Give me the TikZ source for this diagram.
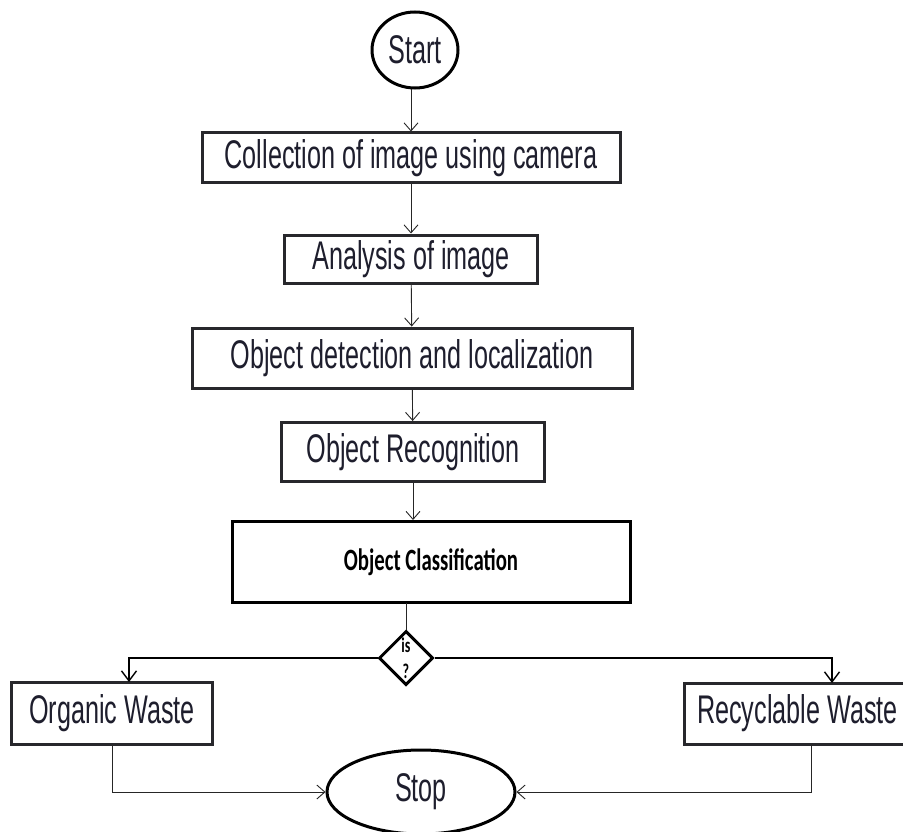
\documentclass[tikz,border=0pt]{standalone}
\usepackage{fontspec}
\setmainfont{Liberation Sans}
\newfontfamily\nar[FakeStretch=0.63]{Liberation Sans}
\newfontfamily\carl[FakeStretch=0.67]{Carlito}
\usetikzlibrary{shapes.geometric,arrows.meta}
\definecolor{boxc}{RGB}{40,40,44}
\definecolor{txtc}{RGB}{30,30,45}
\begin{document}
\begin{tikzpicture}[x=1pt,y=-1pt,
  box/.style={draw=boxc, line width=3pt, inner sep=0pt, text=txtc,
    font=\nar\fontsize{40}{44}\selectfont},
  term/.style={ellipse, draw=black, line width=3pt, inner sep=0pt, text=txtc,
    font=\nar\fontsize{40}{44}\selectfont},
  decision/.style={diamond, draw=black, line width=3pt, inner sep=0pt, aspect=1,
    minimum width=54pt, minimum height=54pt, align=center,
    font=\carl\bfseries\fontsize{21}{26}\selectfont},
  conn/.style={draw=black!85, line width=0.9pt, -{Straight Barb[length=8pt,width=14pt]}},
  plain/.style={draw=black!85, line width=0.9pt},
  branch/.style={draw=black, line width=2.6pt, -{Straight Barb[length=10pt,width=15pt,line width=1.4pt]}}
]
\useasboundingbox (0,0) rectangle (903,832);
\fill[white] (0,0) rectangle (903,832);

\node[term, minimum width=86pt, minimum height=76pt] (start) at (415,50) {Start};
\node[box, minimum width=418pt, minimum height=50pt] (collect) at (411,158) {Collection of image using camera};
\node[box, minimum width=253pt, minimum height=48pt] (analysis) at (411,259) {Analysis of image};
\node[box, minimum width=440pt, minimum height=60pt] (detect) at (412,358) {Object detection and localization};
\node[box, minimum width=263pt, minimum height=59pt] (recog) at (413,452) {Object Recognition};
\node[box, draw=black, minimum width=398pt, minimum height=81pt,
  font=\carl\bfseries\fontsize{31}{34}\selectfont, text=black] (classify) at (431,562)
  {Object Classification\hspace{51pt}};
\node[decision] (decide) at (406,658) {is\\?};
\node[box, minimum width=201pt, minimum height=62pt] (organic) at (112,713) {Organic Waste};
\node[box, minimum width=222pt, minimum height=61pt, anchor=west] (recycle) at (683,713.5) {\hspace{4pt}Recyclable Waste\hspace{14pt}};
\node[term, minimum width=188pt, minimum height=84pt] (stop) at (421,792) {Stop};

\coordinate (orgin) at (129,682);
\coordinate (recin) at (832,683);
\coordinate (recout) at (811,744);
\coordinate (clsout) at (406,603);

\draw[conn] (start.south -| collect.north) -- (collect.north);
\draw[conn] (collect) -- (analysis);
\draw[conn] (analysis) -- (detect);
\draw[conn] (detect) -- (recog);
\draw[conn] (recog.south) -- (recog.south |- classify.north);
\draw[plain] (clsout) -- (decide.north);
\draw[branch] (decide.west) -| (orgin);
\draw[branch] (decide.east) -| (recin);
\draw[conn] (organic.south) |- (stop.west);
\draw[conn] (recout) |- (stop.east);
\end{tikzpicture}
\end{document}
